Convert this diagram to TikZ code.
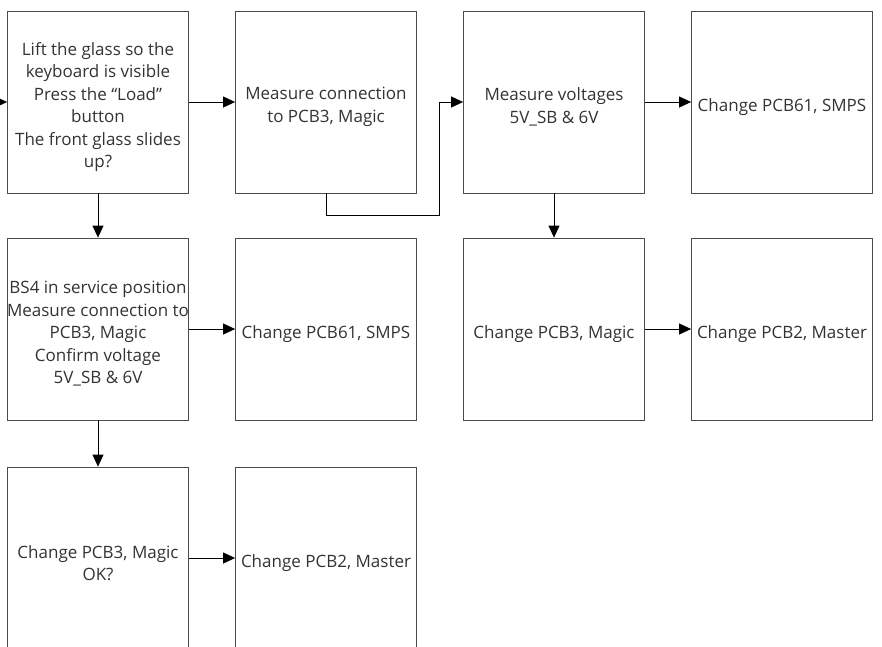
\documentclass[tikz,border=0pt]{standalone}
\usepackage{fontspec}
\setmainfont{Open Sans}
\usetikzlibrary{arrows.meta}
\begin{document}
\begin{tikzpicture}[x=1pt,y=-1pt,
  box/.style={rectangle,draw=black!70,line width=0.8pt,minimum width=181pt,minimum height=182pt,inner sep=0pt},
  txt/.style={align=center,inner sep=0pt,text=black!80,font=\fontsize{17}{22.5}\selectfont,yshift=-5pt},
  arr/.style={-{Triangle[length=12pt,width=11pt]},line width=0.9pt}]
\useasboundingbox (0,0) rectangle (882,646);
\clip (0,0) rectangle (882,646);
%\draw[help lines, step=50] (0,0) grid (882,646);
\node[box,label={[txt]center:{Lift the glass so the\\keyboard is visible\\Press the “Load”\\button\\The front glass slides\\up?}}](lift) at (98,102) {};
\node[box,label={[txt]center:{Measure connection\\to PCB3, Magic}}](meas1) at (326,102) {};
\node[box,label={[txt]center:{Measure voltages\\5V\_SB \& 6V}}](volt) at (554,102) {};
\node[box,label={[txt]center:{Change PCB61, SMPS}}](smps1) at (782,102) {};
\node[box,label={[txt]center:{BS4 in service position\\Measure connection to\\PCB3, Magic\\Confirm voltage\\5V\_SB \& 6V}}](bs4) at (98,329) {};
\node[box,label={[txt]center:{Change PCB61, SMPS}}](smps2) at (326,329) {};
\node[box,label={[txt]center:{Change PCB3, Magic}}](magic1) at (554,329) {};
\node[box,label={[txt]center:{Change PCB2, Master}}](master1) at (782,329) {};
\node[box,label={[txt]center:{Change PCB3, Magic\\OK?}}](magic2) at (98,558) {};
\node[box,label={[txt]center:{Change PCB2, Master}}](master2) at (326,558) {};
\coordinate(start) at (0,102);
\coordinate(bend) at (439,215);

\draw[arr](start)--(lift);
\draw[arr](lift)--(meas1);
\draw[arr](meas1.south)|-(bend)|-(volt.west);
\draw[arr](volt)--(smps1);
\draw[arr](volt)--(magic1);
\draw[arr](lift)--(bs4);
\draw[arr](bs4)--(smps2);
\draw[arr](magic1)--(master1);
\draw[arr](bs4)--(magic2);
\draw[arr](magic2)--(master2);
\end{tikzpicture}
\end{document}
